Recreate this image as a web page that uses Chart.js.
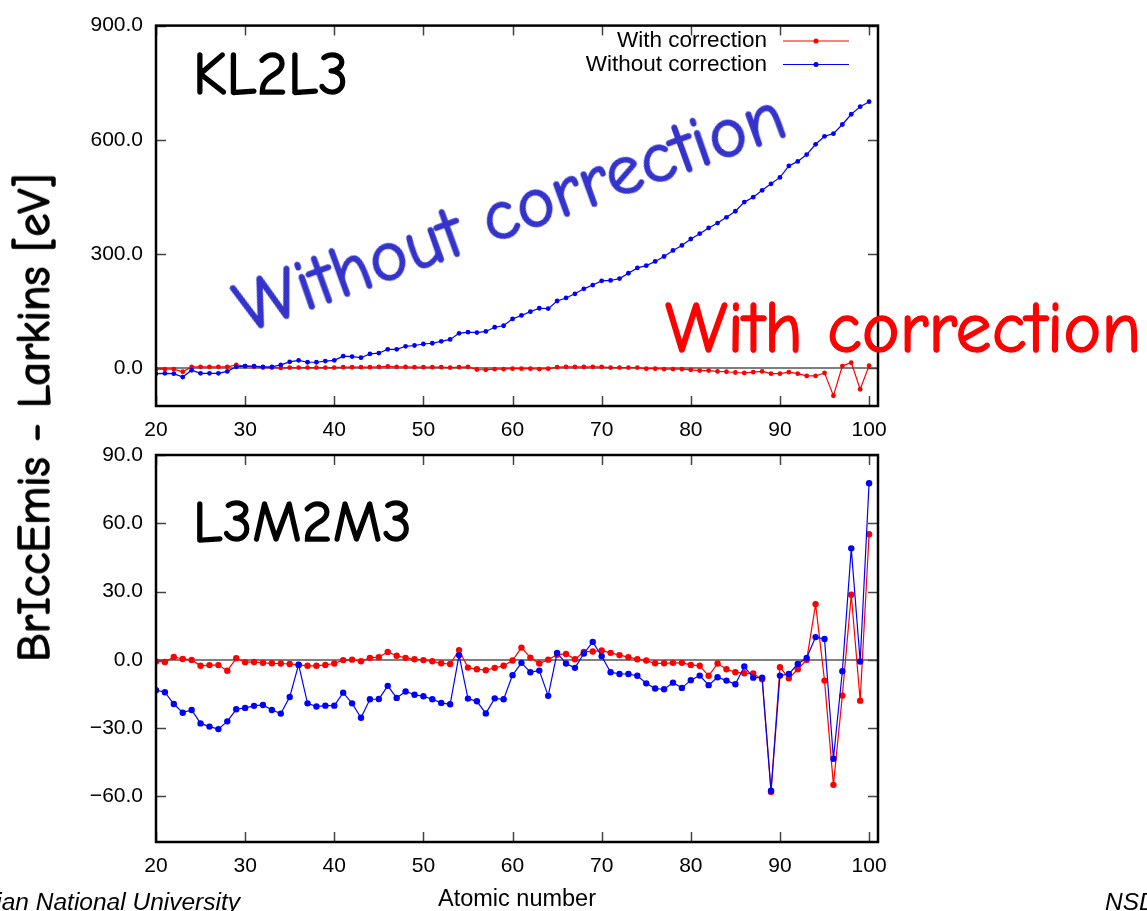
<!DOCTYPE html>
<html>
<head>
  <title>BrIccEmis - Larkins</title>
  <script src="https://cdn.jsdelivr.net/npm/chart.js"></script>
  <style>
    html, body { margin: 0; padding: 0; background: #fff; }
    body { position: relative; width: 1147px; height: 911px; overflow: hidden; }
    canvas { position: absolute; left: 0; }
    #kl-chart { top: 0; }
    #lm-chart { top: 415px; }
    .hand {
      position: absolute; line-height: 1; white-space: nowrap;
      font-family: "Comic Sans MS", "Comic Neue", "DejaVu Sans", sans-serif;
      color: #000;
      -webkit-text-stroke: 1.5px currentColor;
    }
    .red { color: #ff0000; }
    .blue { color: #3434cc; }
    .foot {
      position: absolute; line-height: 1; white-space: nowrap;
      font-family: "Liberation Sans", Arial, sans-serif; font-style: italic;
      font-size: 24.5px; color: #000;
    }
  </style>
</head>
<body>
  <canvas id="kl-chart" width="1147" height="445"></canvas>
  <canvas id="lm-chart" width="1147" height="496"></canvas>

  <div class="hand" style="left:193px; top:45px; font-size:60px;">KL2L3</div>
  <div class="hand" style="left:193px; top:493px; font-size:59px;">L3M2M3</div>
  <div class="hand blue" style="left:510px; top:212px; font-size:73px; transform: translate(-50%, -50%) rotate(-20deg);">Without correction</div>
  <div class="hand red" style="left:665px; top:293px; font-size:72px;">With correction</div>
  <div class="hand" style="left:35px; top:418px; font-size:46px; transform: translate(-50%, -50%) rotate(-90deg);">BrIccEmis - Larkins [eV]</div>
  <div class="foot" style="left:-260px; width:500px; text-align:right; top:890px;">Australian National University</div>
  <div class="foot" style="left:1105px; top:890px;">NSD</div>

  <script>
    // Atomic numbers Z = 20 ... 100
    const atomicNumbers = [
      20, 21, 22, 23, 24, 25, 26, 27, 28, 29,
      30, 31, 32, 33, 34, 35, 36, 37, 38, 39,
      40, 41, 42, 43, 44, 45, 46, 47, 48, 49,
      50, 51, 52, 53, 54, 55, 56, 57, 58, 59,
      60, 61, 62, 63, 64, 65, 66, 67, 68, 69,
      70, 71, 72, 73, 74, 75, 76, 77, 78, 79,
      80, 81, 82, 83, 84, 85, 86, 87, 88, 89,
      90, 91, 92, 93, 94, 95, 96, 97, 98, 99,
      100
    ];

    // KL2L3 differences [eV]
    const kl2l3With = [
      -3, -3, -3, -10, 3, 3, 3, 3, 3, 8,
      5, 3, 1, 1, 0, 1, 1, 1, 1, 1,
      1, 2, 2, 2, 2, 3, 4, 3, 3, 2,
      2, 2, 2, 1, 2, 3, -4, -5, -3, -3,
      -2, -2, -2, -3, -2, 2, 3, 3, 3, 3,
      3, 1, 1, 1, 1, -2, -2, -3, -3, -3,
      -5, -7, -7, -9, -10, -12, -13, -11, -9, -15,
      -15, -11, -15, -21, -21, -13, -73, 5, 14, -56,
      6
    ];
    const kl2l3Without = [
      -15, -14, -15, -24, -6, -14, -14, -14, -9, 3,
      5, 5, 3, 3, 8, 16, 20, 15, 15, 18,
      20, 31, 30, 27, 37, 39, 49, 49, 57, 59,
      63, 65, 70, 75, 91, 94, 93, 96, 107, 111,
      129, 138, 148, 157, 156, 176, 184, 195, 208, 218,
      229, 230, 235, 249, 263, 269, 280, 293, 309, 322,
      339, 353, 368, 381, 396, 412, 436, 449, 467, 484,
      501, 531, 543, 561, 588, 609, 616, 640, 667, 687,
      700
    ];

    // L3M2M3 differences [eV]
    const l3m2m3With = [
      -0.7, -0.9, 1.3, 0.4, 0.0, -2.6, -2.3, -2.3, -4.8, 0.7,
      -1.0, -0.9, -1.3, -1.5, -1.6, -1.8, -2.2, -2.6, -2.6, -2.2,
      -1.6, -0.1, 0.1, -0.6, 0.9, 1.2, 3.5, 1.8, 0.9, 0.3,
      -0.1, -0.6, -1.5, -1.8, 4.3, -3.4, -4.1, -4.5, -3.5, -2.6,
      -0.3, 5.4, 1.0, -1.6, 0.1, 2.3, 2.6, 0.3, 3.5, 3.7,
      4.1, 3.1, 2.1, 1.2, 0.3, -0.3, -1.5, -1.5, -1.3, -1.3,
      -2.2, -2.6, -7.0, -1.6, -4.1, -5.4, -5.9, -6.0, -8.5, -58.0,
      -3.2, -8.1, -4.1, 0.0, 24.5, -9.1, -54.9, -15.7, 28.6, -17.9,
      55.2
    ];
    const l3m2m3Without = [
      -13.3, -14.2, -19.4, -23.2, -22.0, -27.9, -29.3, -30.4, -27.0, -21.7,
      -21.1, -20.2, -19.8, -22.0, -23.6, -16.3, -2.1, -19.1, -20.5, -20.1,
      -20.1, -14.4, -19.1, -25.4, -17.3, -17.2, -11.4, -16.7, -13.9, -15.3,
      -16.0, -17.3, -18.9, -19.5, 2.1, -17.0, -18.2, -23.5, -16.9, -17.3,
      -6.7, -1.3, -5.4, -4.7, -15.8, 3.1, -1.6, -3.5, 2.8, 7.9,
      1.6, -5.4, -6.2, -6.2, -7.0, -10.3, -12.6, -12.9, -10.0, -12.3,
      -8.9, -6.9, -11.1, -7.6, -9.1, -10.7, -2.9, -7.8, -7.8, -57.5,
      -6.9, -6.2, -1.8, 0.9, 10.0, 9.2, -43.4, -5.0, 49.0, -0.7,
      77.6
    ];

    const xTicks = [20, 30, 40, 50, 60, 70, 80, 90, 100];
    const klTicks = [0, 300, 600, 900];
    const lmTicks = [-60, -30, 0, 30, 60, 90];

    const RED = '#ff0000';
    const BLUE = '#0000ff';
    const tickFont = { family: "'Liberation Sans', Arial, sans-serif", size: 21 };

    const toPoints = ys => atomicNumbers.map((z, i) => ({ x: z, y: ys[i] }));

    // zero line, inward tick marks on all four sides and the box frame
    const framePlugin = {
      id: 'frame',
      beforeDatasetsDraw(chart) {
        const { ctx, chartArea: a, scales: { x, y } } = chart;
        const y0 = y.getPixelForValue(0);
        ctx.save();
        ctx.strokeStyle = '#555';
        ctx.lineWidth = 1.5;
        ctx.beginPath();
        ctx.moveTo(a.left, y0);
        ctx.lineTo(a.right, y0);
        ctx.stroke();

        ctx.strokeStyle = '#444';
        ctx.lineWidth = 1.5;
        ctx.beginPath();
        x.ticks.forEach(t => {
          const px = Math.round(x.getPixelForValue(t.value)) + 0.5;
          ctx.moveTo(px, a.bottom); ctx.lineTo(px, a.bottom - 10);
          ctx.moveTo(px, a.top); ctx.lineTo(px, a.top + 10);
        });
        y.ticks.forEach(t => {
          const py = Math.round(y.getPixelForValue(t.value)) + 0.5;
          ctx.moveTo(a.left, py); ctx.lineTo(a.left + 10, py);
          ctx.moveTo(a.right, py); ctx.lineTo(a.right - 10, py);
        });
        ctx.stroke();
        ctx.restore();
      },
      afterDraw(chart) {
        const { ctx, chartArea: a } = chart;
        ctx.save();
        ctx.strokeStyle = '#000';
        ctx.lineWidth = 2.5;
        ctx.strokeRect(a.left, a.top, a.right - a.left, a.bottom - a.top);
        ctx.restore();
      }
    };

    // key in the upper right corner: label, then a line sample with a dot
    const keyPlugin = {
      id: 'lineKey',
      afterDatasetsDraw(chart, args, opts) {
        if (!opts.show) return;
        const { ctx } = chart;
        const sets = chart.data.datasets.slice().sort((a, b) => a.keyRow - b.keyRow);
        ctx.save();
        ctx.font = "22.5px 'Liberation Sans', Arial, sans-serif";
        ctx.textAlign = 'right';
        ctx.textBaseline = 'middle';
        sets.forEach((ds, i) => {
          const yy = opts.top + i * opts.rowGap;
          ctx.fillStyle = '#000';
          ctx.fillText(ds.label, opts.textRight, yy);
          ctx.strokeStyle = ds.borderColor;
          ctx.lineWidth = 1.2;
          ctx.beginPath();
          ctx.moveTo(opts.lineFrom, yy);
          ctx.lineTo(opts.lineTo, yy);
          ctx.stroke();
          ctx.fillStyle = ds.backgroundColor;
          ctx.beginPath();
          ctx.arc((opts.lineFrom + opts.lineTo) / 2, yy, 2.5, 0, Math.PI * 2);
          ctx.fill();
        });
        ctx.restore();
      }
    };

    function series(label, ys, color, radius, order, keyRow) {
      return {
        label: label,
        data: toPoints(ys),
        borderColor: color,
        backgroundColor: color,
        borderWidth: 1.2,
        pointRadius: radius,
        pointBorderWidth: 0,
        pointHoverRadius: radius,
        tension: 0,
        order: order,
        keyRow: keyRow
      };
    }

    function makeChart(id, cfg) {
      const ctx = document.getElementById(id).getContext('2d');
      return new Chart(ctx, {
        type: 'line',
        data: {
          datasets: [
            series('With correction', cfg.withData, RED, cfg.radius, 1, 0),
            series('Without correction', cfg.withoutData, BLUE, cfg.radius, 0, 1)
          ]
        },
        plugins: [framePlugin, keyPlugin],
        options: {
          responsive: false,
          maintainAspectRatio: false,
          animation: false,
          devicePixelRatio: 1,
          layout: { padding: { left: 0, right: 269, top: cfg.padTop, bottom: 0 } },
          plugins: {
            legend: { display: false },
            tooltip: { enabled: false },
            lineKey: cfg.key
          },
          scales: {
            x: {
              type: 'linear',
              min: 20,
              max: 101,
              afterBuildTicks: s => { s.ticks = xTicks.map(v => ({ value: v })); },
              afterFit: s => { s.height = cfg.xHeight; },
              grid: { display: false, drawTicks: false },
              border: { display: false },
              ticks: {
                padding: 12, color: '#000', font: tickFont,
                autoSkip: false, maxRotation: 0,
                callback: v => String(v)
              },
              title: cfg.xTitle
            },
            y: {
              min: cfg.yMin,
              max: cfg.yMax,
              afterBuildTicks: s => { s.ticks = cfg.yTicks.map(v => ({ value: v })); },
              afterFit: s => { s.width = 156; },
              grid: { display: false, drawTicks: false },
              border: { display: false },
              ticks: {
                padding: 13, color: '#000', font: tickFont,
                callback: v => v.toFixed(1).replace('-', '\u2212')
              }
            }
          }
        }
      });
    }

    makeChart('kl-chart', {
      withData: kl2l3With,
      withoutData: kl2l3Without,
      radius: 2.4,
      padTop: 17,
      xHeight: 39,
      yMin: -100,
      yMax: 900,
      yTicks: klTicks,
      xTitle: { display: false },
      key: { show: true, top: 41, rowGap: 23.5, textRight: 767, lineFrom: 783, lineTo: 849 }
    });

    makeChart('lm-chart', {
      withData: l3m2m3With,
      withoutData: l3m2m3Without,
      radius: 3.2,
      padTop: 40,
      xHeight: 69,
      yMin: -80,
      yMax: 90,
      yTicks: lmTicks,
      xTitle: {
        display: true,
        text: 'Atomic number',
        color: '#000',
        font: { family: "'Liberation Sans', Arial, sans-serif", size: 23.5, lineHeight: 1 },
        padding: { top: 0, bottom: 0 }
      },
      key: { show: false }
    });
  </script>
</body>
</html>
